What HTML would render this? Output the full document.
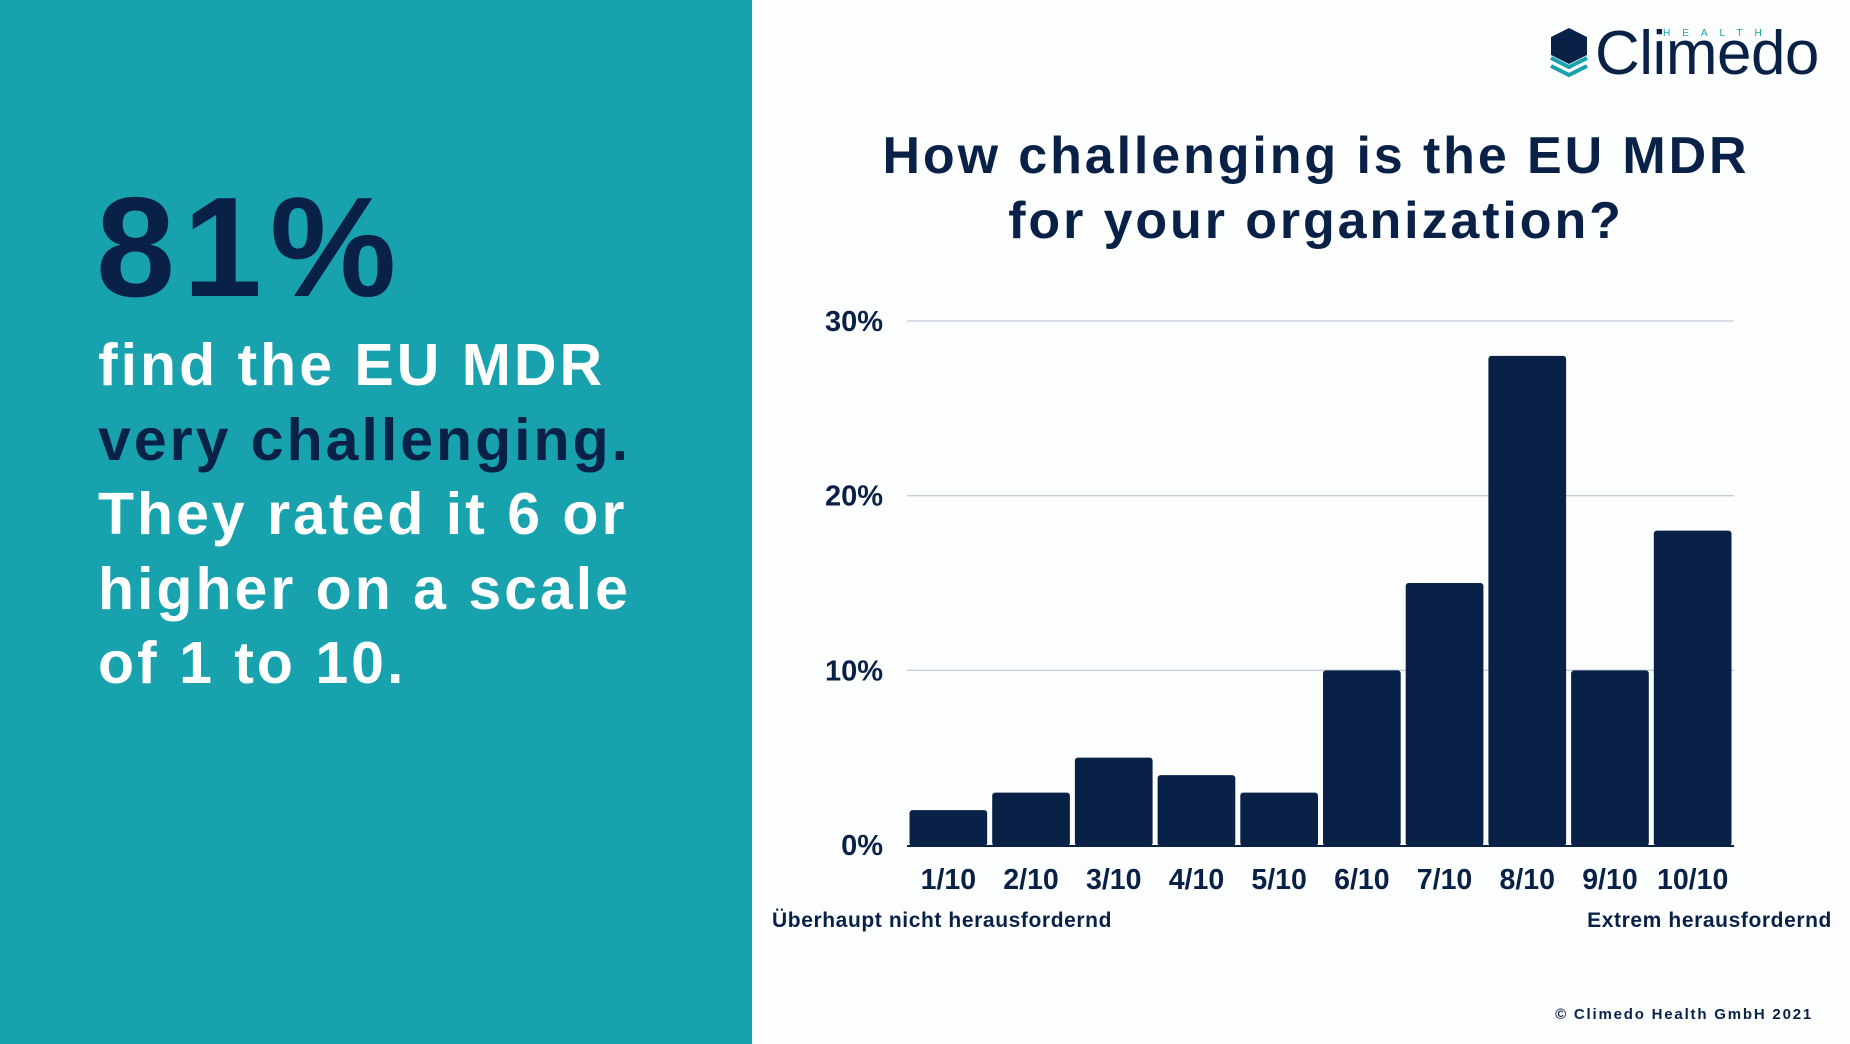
<!DOCTYPE html>
<html><head><meta charset="utf-8"><style>
html,body{margin:0;padding:0}
body{width:1850px;height:1044px;position:relative;background:#fcfefe;font-family:"Liberation Sans",sans-serif;overflow:hidden}
.t{position:absolute;white-space:nowrap}
</style></head><body>
<div style="position:absolute;left:0;top:0;width:752px;height:1044px;background:#17a2ad"></div>
<div class="t" style="left:96px;top:168px;font-size:142px;font-weight:bold;color:#0a2147;letter-spacing:8px;line-height:160px">81%</div>
<div style="position:absolute;left:98px;top:328px;font-size:59px;font-weight:bold;line-height:74.5px;color:#fff;letter-spacing:3px">
<div>find the EU MDR</div><div style="color:#0a2147">very challenging.</div><div>They rated it 6 or</div><div>higher on a scale</div><div>of 1 to 10.</div></div>

<div style="position:absolute;left:1549px;top:20px;width:280px;height:70px">
<svg width="40" height="52" viewBox="0 0 40 52" style="position:absolute;left:0;top:8px">
<polygon points="20,0 38,9 38,27 20,36 2,27 2,9" fill="#0a2147"/>
<polyline points="2,30 20,39 38,30" fill="none" stroke="#17a2ad" stroke-width="4"/>
<polyline points="2,38 20,47 38,38" fill="none" stroke="#17a2ad" stroke-width="4"/>
</svg>
<div class="t" style="left:46px;top:-2px;font-size:62px;color:#0a2147;letter-spacing:-0.5px;line-height:72px">Climedo</div>
<div class="t" style="left:114px;top:8px;font-size:10px;color:#17a2ad;letter-spacing:12px">HEALTH</div>
</div>

<div style="position:absolute;left:800px;width:1032px;top:124px;text-align:center;font-size:52px;font-weight:bold;color:#0a2147;line-height:65px;letter-spacing:2.9px">How challenging is the EU MDR<br>for your organization?</div>

<svg id="chart" width="1850" height="1044" style="position:absolute;left:0;top:0"></svg>

<div class="t" style="left:772px;top:909px;font-size:21px;font-weight:bold;color:#0a2147;letter-spacing:0.6px">Überhaupt nicht herausfordernd</div>
<div class="t" style="right:18px;top:909px;font-size:21px;font-weight:bold;color:#0a2147;letter-spacing:0.6px">Extrem herausfordernd</div>
<div class="t" style="right:37px;top:1006px;font-size:15px;font-weight:bold;color:#0a2147;letter-spacing:1.8px">© Climedo Health GmbH 2021</div>

<script>
const categories=["1/10","2/10","3/10","4/10","5/10","6/10","7/10","8/10","9/10","10/10"];
const values=[2,3,5,4,3,10,15,28,10,18];
const yTicks=[0,10,20,30];
const yTickLabels=["0%","10%","20%","30%"];
const svg=document.getElementById('chart');
const NS='http://www.w3.org/2000/svg';
const L=907,R=1734,Y0=845,Y30=321;
const y=v=>Y0-(v/30)*(Y0-Y30);
const band=(R-L)/categories.length;
const x=i=>L+i*band;
yTicks.forEach((t,i)=>{
  if(t>0){const ln=document.createElementNS(NS,'line');
  ln.setAttribute('x1',L);ln.setAttribute('x2',R);ln.setAttribute('y1',y(t));ln.setAttribute('y2',y(t));
  ln.setAttribute('stroke','#c5cbd8');ln.setAttribute('stroke-width','1.3');
  
  
  svg.appendChild(ln);}
  const tx=document.createElementNS(NS,'text');
  tx.setAttribute('x',883);tx.setAttribute('y',y(t)+10);tx.setAttribute('text-anchor','end');
  tx.setAttribute('font-size','29');tx.setAttribute('font-weight','bold');tx.setAttribute('fill','#0a2147');
  tx.setAttribute('font-family','Liberation Sans, sans-serif');
  tx.textContent=yTickLabels[i];
  
  
  svg.appendChild(tx);
});
values.forEach((v,i)=>{
  const r=document.createElementNS(NS,'rect');
  const g=2.5;
  r.setAttribute('x',x(i)+g);r.setAttribute('width',band-2*g);
  r.setAttribute('y',y(v));r.setAttribute('height',Y0-y(v)+1);
  r.setAttribute('rx','3');r.setAttribute('fill','#0a2147');
  
  
  svg.appendChild(r);
  const tx=document.createElementNS(NS,'text');
  tx.setAttribute('x',x(i)+band/2);tx.setAttribute('y',889);tx.setAttribute('text-anchor','middle');
  tx.setAttribute('font-size','28.5');tx.setAttribute('font-weight','bold');tx.setAttribute('fill','#0a2147');
  tx.setAttribute('font-family','Liberation Sans, sans-serif');
  tx.textContent=categories[i];
  
  
  svg.appendChild(tx);
});
const base=document.createElementNS(NS,'line');
base.setAttribute('x1',L);base.setAttribute('x2',R);base.setAttribute('y1',Y0+1);base.setAttribute('y2',Y0+1);
base.setAttribute('stroke','#0a2147');base.setAttribute('stroke-width','2');


svg.appendChild(base);
</script>
</body></html>
